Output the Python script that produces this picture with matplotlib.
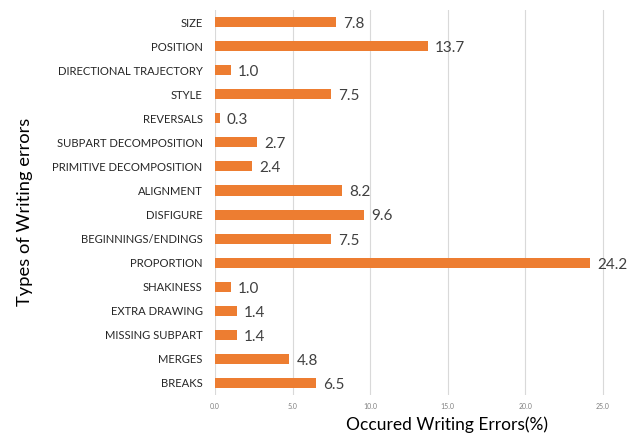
import matplotlib
matplotlib.use("Agg")
import matplotlib.pyplot as plt

# 数据
categories = ["SIZE", "POSITION", "DIRECTIONAL TRAJECTORY", "STYLE", "REVERSALS",
              "SUBPART DECOMPOSITION", "PRIMITIVE DECOMPOSITION", "ALIGNMENT",
              "DISFIGURE", "BEGINNINGS/ENDINGS", "PROPORTION", "SHAKINESS",
              "EXTRA DRAWING", "MISSING SUBPART", "MERGES", "BREAKS"]
values = [7.8, 13.7, 1.0, 7.5, 0.3, 2.7, 2.4, 8.2, 9.6, 7.5, 24.2, 1.0, 1.4, 1.4, 4.8, 6.5]
xticks = [0, 5, 10, 15, 20, 25]

plt.rcParams['font.family'] = ['Lato', 'DejaVu Sans']

fig = plt.figure(figsize=(6.39, 4.37), dpi=100)
ax = fig.add_axes([0.3365, 0.0961, 0.992 - 0.3365, 0.977 - 0.0961])

y = list(range(len(categories)))
ax.barh(y, values, height=0.42, color='#ED7D31', zorder=3)
for yi, v in zip(y, values):
    ax.text(v + 0.45, yi + 0.08, f"{v:.1f}", va='center', ha='left',
            fontsize=11, color='#404040')

ax.set_ylim(len(categories) - 0.5, -0.5)
ax.set_xlim(0, 27)
ax.set_yticks(y)
ax.set_yticklabels(categories, fontsize=8.1, color='#262626')
ax.set_xticks(xticks)
ax.set_xticklabels([f"{t:.1f}" for t in xticks], fontsize=5, color='#808080')
ax.tick_params(axis='both', length=0)
ax.tick_params(axis='y', pad=9)
ax.tick_params(axis='x', pad=6)
ax.grid(axis='x', color='#d9d9d9', linewidth=0.8, zorder=0)
for s in ax.spines.values():
    s.set_visible(False)

fig.text(447 / 639, 0.027, "Occured Writing Errors(%)", ha='center', va='center',
         fontsize=12.5, color='#000000')
fig.text(25 / 639, 1 - 212 / 437, "Types of Writing errors", ha='center', va='center',
         rotation=90, fontsize=13.2, color='#000000')

fig.savefig("out.png", dpi=100)
